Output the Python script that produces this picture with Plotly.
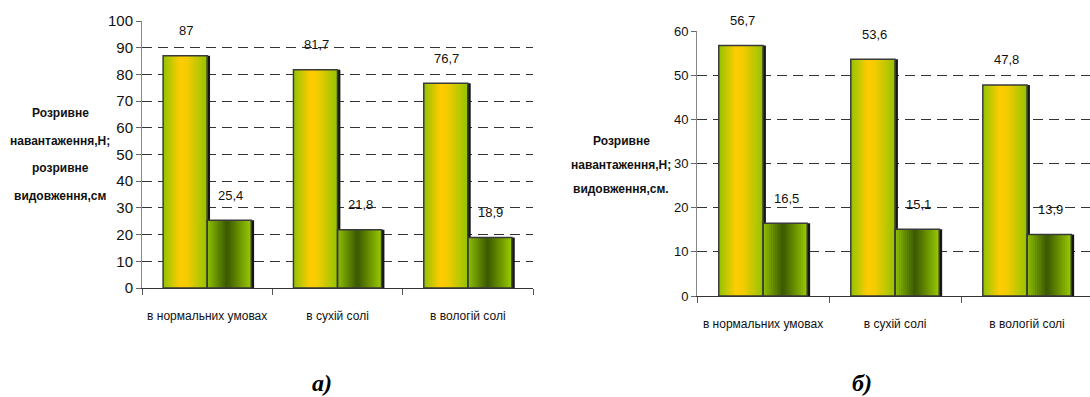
import plotly.graph_objects as go

# ---------------- data ----------------
categories = ["в нормальних умовах", "в сухій солі", "в вологій солі"]
load_a = [87, 81.7, 76.7]        # розривне навантаження, Н (a)
elong_a = [25.4, 21.8, 18.9]     # розривне видовження, см (a)
load_b = [56.7, 53.6, 47.8]      # (б)
elong_b = [16.5, 15.1, 13.9]     # (б)
yticks_a = [0, 10, 20, 30, 40, 50, 60, 70, 80, 90, 100]
yticks_b = [0, 10, 20, 30, 40, 50, 60]
ylabel_a = ["Розривне", "навантаження,Н;", "розривне", "видовження,см"]
ylabel_b = ["Розривне", "навантаження,Н;", "видовження,см."]
captions = ["а)", "б)"]

FONT = "Liberation Sans, Arial, sans-serif"
W, H = 1090, 397

def hex2rgb(h):
    h = h.lstrip('#')
    return tuple(int(h[i:i + 2], 16) for i in (0, 2, 4))

def interp(stops, t):
    for (t0, c0), (t1, c1) in zip(stops[:-1], stops[1:]):
        if t0 <= t <= t1:
            f = 0 if t1 == t0 else (t - t0) / (t1 - t0)
            a, b = hex2rgb(c0), hex2rgb(c1)
            return "rgb(%d,%d,%d)" % tuple(round(a[i] + (b[i] - a[i]) * f) for i in range(3))
    return stops[-1][1]

grad_load = [(0, "#93c400"), (0.38, "#ffcc00"), (0.55, "#f2cc00"), (1, "#93c400")]
grad_elong = [(0, "#8fc000"), (0.45, "#3a5800"), (1, "#99cc00")]

fig = go.Figure()

def add_chart(loads, elongs, xa, ya, bw):
    groups = [(loads, -bw, grad_load), (elongs, 0.0, grad_elong)]
    # shadows
    for vals, off, _ in groups:
        fig.add_trace(go.Bar(x=categories, y=vals, offset=off + 0.022, width=bw,
                             marker=dict(color="#161616", line=dict(width=0)),
                             xaxis=xa, yaxis=ya, hoverinfo="skip", showlegend=False))
    # gradient slices (each later slice overlays the right part of the previous)
    n = 22
    for vals, off, stops in groups:
        sw = bw / n
        for i in range(n):
            fig.add_trace(go.Bar(x=categories, y=vals, offset=off + i * sw, width=bw - i * sw,
                                 marker=dict(color=interp(stops, (i + 0.5) / n), line=dict(width=0)),
                                 xaxis=xa, yaxis=ya, hoverinfo="skip", showlegend=False))
    # outlines
    for vals, off, _ in groups:
        fig.add_trace(go.Bar(x=categories, y=vals, offset=off, width=bw,
                             marker=dict(color="rgba(0,0,0,0)", line=dict(color="#3a3a3a", width=1.5)),
                             xaxis=xa, yaxis=ya, showlegend=False))

add_chart(load_a, elong_a, "x", "y", 0.338)
add_chart(load_b, elong_b, "x2", "y2", 0.335)

annotations = []
def add_labels(vals, xr, yr, xshift, size):
    for c, v in zip(categories, vals):
        annotations.append(dict(x=c, y=v, xref=xr, yref=yr, text=f"{v:g}".replace(".", ","),
                                showarrow=False, xshift=xshift, yshift=25,
                                xanchor="center", yanchor="middle",
                                font=dict(family=FONT, size=size, color="#111")))

add_labels(load_a, "x", "y", -21, 13)
add_labels(elong_a, "x", "y", 23, 13)
add_labels(load_b, "x2", "y2", -21, 13)
add_labels(elong_b, "x2", "y2", 23, 13)

# y-axis titles (line by line)
for i, t in enumerate(ylabel_a):
    annotations.append(dict(x=60 / W, y=1 - (113 + i * 27.7) / H, xref="paper", yref="paper",
                            text="<b>" + t + "</b>", showarrow=False,
                            xanchor="center", yanchor="middle",
                            font=dict(family=FONT, size=12, color="#111")))
for i, t in enumerate(ylabel_b):
    annotations.append(dict(x=621 / W, y=1 - (141 + i * 24) / H, xref="paper", yref="paper",
                            text="<b>" + t + "</b>", showarrow=False,
                            xanchor="center", yanchor="middle",
                            font=dict(family=FONT, size=12, color="#111")))

# captions
for t, xp in zip(captions, [322, 862]):
    annotations.append(dict(x=xp / W, y=1 - 383 / H, xref="paper", yref="paper",
                            text="<b><i>" + t + "</i></b>", showarrow=False,
                            xanchor="center", yanchor="middle",
                            font=dict(family="Liberation Serif, Times New Roman, serif", size=24, color="#000")))

xcommon = dict(type="category", categoryorder="array", categoryarray=categories,
               tickson="boundaries", ticks="outside", ticklen=6, tickcolor="#555",
               showline=True, linecolor="#333", linewidth=1, showgrid=False,
               tickangle=0, automargin=False,
               tickfont=dict(family=FONT, size=12, color="#111"), ticklabelstandoff=17)
ycommon = dict(showgrid=True, griddash="10px,6px", gridcolor="#333", gridwidth=1,
               showline=True, linecolor="#888", linewidth=1, ticks="outside", ticklen=5,
               tickcolor="#666", zeroline=False, automargin=False,
               tickfont=dict(family=FONT, size=15, color="#111"))

fig.update_layout(
    width=W, height=H, margin=dict(l=0, r=0, t=0, b=0),
    paper_bgcolor="white", plot_bgcolor="white",
    barmode="overlay", showlegend=False,
    xaxis=dict(domain=[142 / W, 533 / W], range=[-0.5, 2.5], anchor="y", **xcommon),
    yaxis=dict(domain=[(H - 288) / H, (H - 21) / H], range=[0, 100], tickvals=yticks_a,
               anchor="x", **ycommon),
    xaxis2=dict(domain=[697 / W, 1.0], range=[-0.5, 2.477], anchor="y2", **xcommon),
    yaxis2=dict(domain=[(H - 296) / H, (H - 31) / H], range=[0, 60], tickvals=yticks_b,
                anchor="x2", **{**ycommon, "tickfont": dict(family=FONT, size=13, color="#111")}),
    annotations=annotations,
)

fig.write_html("out.html")
